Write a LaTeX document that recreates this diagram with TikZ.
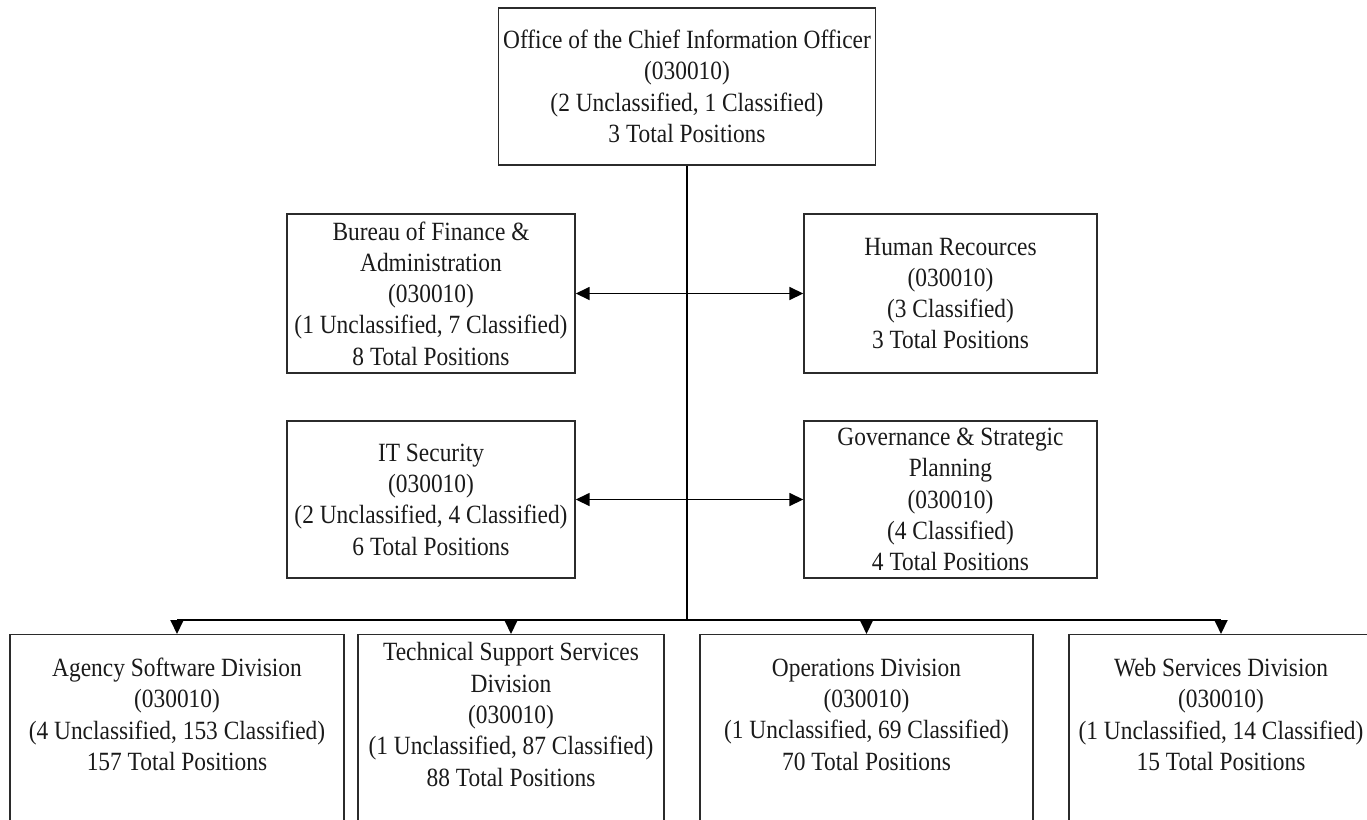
\documentclass[tikz,border=0pt]{standalone}
\usepackage{fontspec}
\setmainfont[FakeStretch=0.89]{Liberation Serif}
\usetikzlibrary{arrows.meta}
\definecolor{boxline}{HTML}{2B2B2B}
\definecolor{ink}{HTML}{1A1A1A}
\newcommand{\orgfont}{\fontsize{26.3}{31.3}\selectfont}
\begin{document}
\begin{tikzpicture}[x=1pt,y=-1pt,
  box/.style={draw=boxline, line width=1.4pt, inner sep=0pt, align=center,
              text=ink, font=\orgfont},
  boxtext/.style={inner sep=0pt, align=center, text=ink, font=\orgfont},
  wire/.style={line width=1.9pt, black},
  tip/.style={-{Triangle[length=14pt,width=13pt]}},
  bothtips/.style={{Triangle[length=14pt,width=13pt]}-{Triangle[length=14pt,width=13pt]}},
]
\useasboundingbox (0,0) rectangle (1367,819);
\clip (0,0) rectangle (1367,819);

% head office
\node[box, minimum width=377pt, minimum height=157pt] (cio) at (687,86.5)
  {Office of the Chief Information Officer\\(030010)\\(2 Unclassified, 1 Classified)\\3 Total Positions};

% staff units
\node[box, minimum width=288pt, minimum height=159pt] (bureau) at (431,293.5)
  {Bureau of Finance \&\\Administration\\(030010)\\(1 Unclassified, 7 Classified)\\8 Total Positions};
\node[box, minimum width=293pt, minimum height=159pt] (hr) at (950.5,293.5)
  {Human Recources\\(030010)\\(3 Classified)\\3 Total Positions};
\node[box, minimum width=288pt, minimum height=157pt] (itsec) at (431,499.5)
  {IT Security\\(030010)\\(2 Unclassified, 4 Classified)\\6 Total Positions};
\node[box, minimum width=293pt, minimum height=157pt] (gov) at (950.5,499.5)
  {Governance \& Strategic\\Planning\\(030010)\\(4 Classified)\\4 Total Positions};

% divisions (frames run past the lower edge)
\node[box, anchor=north, minimum width=334pt, minimum height=220pt] (agency) at (177,634) {};
\node[box, anchor=north, minimum width=306pt, minimum height=220pt] (tss) at (511,634) {};
\node[box, anchor=north, minimum width=333pt, minimum height=220pt] (ops) at (866.5,634) {};
\node[box, anchor=north, minimum width=304pt, minimum height=220pt] (web) at (1221,634) {};

\node[boxtext] (agencytxt) at (177,714.5)
  {Agency Software Division\\(030010)\\(4 Unclassified, 153 Classified)\\157 Total Positions};
\node[boxtext] (tsstxt) at (511,714.5)
  {Technical Support Services\\Division\\(030010)\\(1 Unclassified, 87 Classified)\\88 Total Positions};
\node[boxtext] (opstxt) at (866.5,714.5)
  {Operations Division\\(030010)\\(1 Unclassified, 69 Classified)\\70 Total Positions};
\node[boxtext] (webtxt) at (1221,714.5)
  {Web Services Division\\(030010)\\(1 Unclassified, 14 Classified)\\15 Total Positions};

% reporting lines
\coordinate (bus) at (687,620);
\draw[wire, line width=2.6pt] (cio.south) -- (bus);
\draw[wire] (agency.north |- bus) -- (web.north |- bus);
\foreach \d in {agency,tss,ops,web}
  \draw[wire, tip] (\d.north |- bus) -- (\d.north);
\draw[wire, line width=1.6pt, bothtips] (bureau.east) -- (hr.west);
\draw[wire, line width=1.6pt, bothtips] (itsec.east) -- (gov.west);
\end{tikzpicture}
\end{document}
